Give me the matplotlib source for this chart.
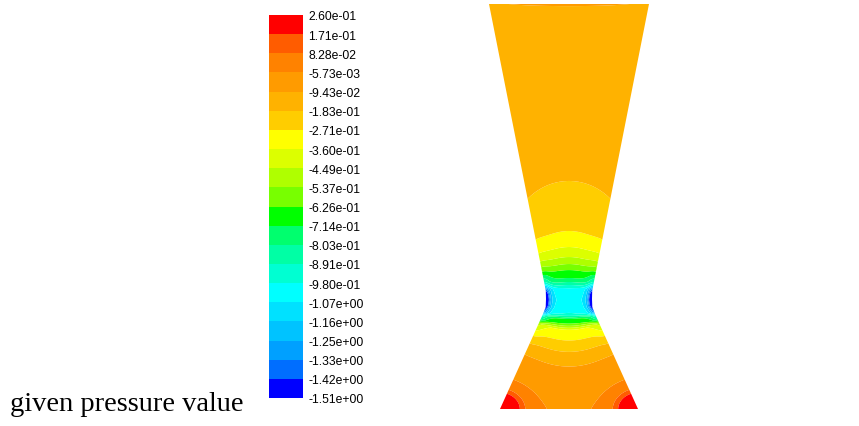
import numpy as np
import matplotlib
matplotlib.use("Agg")
import matplotlib.pyplot as plt
from matplotlib.colors import ListedColormap, BoundaryNorm
from matplotlib.patches import Polygon
from matplotlib.cm import ScalarMappable

# ---------------- data ----------------
# colour-bar labels (top to bottom, as printed)
level_labels = ["2.60e-01", "1.71e-01", "8.28e-02", "-5.73e-03", "-9.43e-02",
                "-1.83e-01", "-2.71e-01", "-3.60e-01", "-4.49e-01", "-5.37e-01",
                "-6.26e-01", "-7.14e-01", "-8.03e-01", "-8.91e-01", "-9.80e-01",
                "-1.07e+00", "-1.16e+00", "-1.25e+00", "-1.33e+00", "-1.42e+00",
                "-1.51e+00"]
level_values = [float(s) for s in level_labels]

# band colours, top (highest) to bottom (lowest)
band_colors = ["#ff0000", "#ff5c00", "#ff8200", "#ff9b00", "#ffb200",
               "#ffcd00", "#ffff00", "#dcff00", "#afff00", "#78ff00",
               "#00ff00", "#00ff6e", "#00ffa5", "#00ffd2", "#00ffff",
               "#00e1ff", "#00c3ff", "#00a0ff", "#006eff", "#0000ff"]

# nozzle wall: vertical position (image px) and half width (px)
wall_y = [5, 285, 292, 300, 308, 315, 410]
wall_halfwidth = [80, 24.5, 23.2, 23.0, 23.3, 26.0, 69]
axis_x = 569

# pressure along the nozzle axis (image y, value)
centre_y = [5, 100, 182, 232, 248, 258, 265, 271, 279, 283, 286, 289, 301,
            315, 317, 318.5, 320, 325, 327, 329, 331, 343, 355, 372, 410, 440]
centre_p = [-0.12, -0.13, -0.183, -0.271, -0.36, -0.449, -0.537, -0.626,
            -0.714, -0.803, -0.891, -0.98, -1.03, -0.98, -0.891, -0.803,
            -0.714, -0.626, -0.537, -0.449, -0.36, -0.271, -0.183, -0.094,
            -0.06, -0.04]

# shift of an isobar at the wall relative to the axis (px, + = towards throat from above)
sag_y = [0, 150, 200, 245, 283, 294, 308, 318, 340, 380, 430]
sag_px = [18, 18, 18, 11, 6, 0, 0, -4, -12, -18, -22]

# local extrema
throat_wall_drop = 0.9      # blue spots at throat walls
outlet_rise = 0.06          # thin lens at top edge
corner_rise_broad = 0.2     # dark orange at bottom corners
corner_rise_peak = 3.2      # red at bottom corners

# ---------------- figure ----------------
W, H = 859, 427
fig = plt.figure(figsize=(W / 100, H / 100), dpi=100)
ax = fig.add_axes([0, 0, 1, 1])
ax.set_xlim(0, W)
ax.set_ylim(H, 0)
ax.axis("off")

xs = np.arange(480, 660, 0.3)
ys = np.arange(0, 420, 0.3)
X, Y = np.meshgrid(xs, ys)
hw = np.interp(Y, wall_y, wall_halfwidth)
dx = X - axis_x
u2 = np.clip((dx / hw) ** 2, 0, 1.5)
s = np.interp(Y, sag_y, sag_px)
y_eff = Y - s * u2
P = np.interp(y_eff, centre_y, centre_p)

# outlet lens
P += outlet_rise * np.exp(-(Y - 5) / 2.5) * np.clip(1 - u2, 0, None)
# throat wall minima
dwall = np.clip(hw - np.abs(dx), 0, None)
d = np.sqrt((dwall / 3.5) ** 2 + ((Y - 301) / 12.0) ** 2)
P -= throat_wall_drop * np.exp(-d)
# bottom corner maxima
for cx in (axis_x - wall_halfwidth[-1], axis_x + wall_halfwidth[-1]):
    dc = np.sqrt((X - cx) ** 2 + (1.2 * (wall_y[-1] - Y)) ** 2)
    P += corner_rise_broad * np.exp(-dc / 30) + corner_rise_peak * np.exp(-dc / 6)

levels_asc = level_values[::-1]
colors_asc = band_colors[::-1]
P = np.clip(P, levels_asc[0] + 1e-6, levels_asc[-1] - 1e-6)
P = np.ma.masked_where(np.abs(dx) > hw + 2, P)
P = np.ma.masked_where((Y < wall_y[0] - 1) | (Y > wall_y[-1] + 1), P)

cs = ax.contourf(X, Y, P, levels=levels_asc, colors=colors_asc, antialiased=True)

left = [(axis_x - h, y) for y, h in zip(wall_y, wall_halfwidth)]
right = [(axis_x + h, y) for y, h in zip(wall_y, wall_halfwidth)]
poly = Polygon(left[::-1] + right, closed=True, facecolor="none", edgecolor="none")
ax.add_patch(poly)
cs.set_clip_path(poly)

# ---------------- colour bar ----------------
cmap = ListedColormap(colors_asc)
norm = BoundaryNorm(levels_asc, cmap.N)
cax = fig.add_axes([269 / W, (H - 399) / H, 34 / W, 383 / H])
cb = fig.colorbar(ScalarMappable(norm=norm, cmap=cmap), cax=cax, ticks=levels_asc)
cb.ax.set_yticklabels(level_labels[::-1])
cb.ax.tick_params(length=0, pad=4, labelsize=8.7)
for t in cb.ax.get_yticklabels():
    t.set_fontfamily("Liberation Sans")
cb.outline.set_visible(False)

fig.text(10 / W, 1 - 411 / H, "given pressure value", fontsize=20.5,
         family="Liberation Serif", ha="left", va="baseline")

fig.savefig("out.png", dpi=100)
